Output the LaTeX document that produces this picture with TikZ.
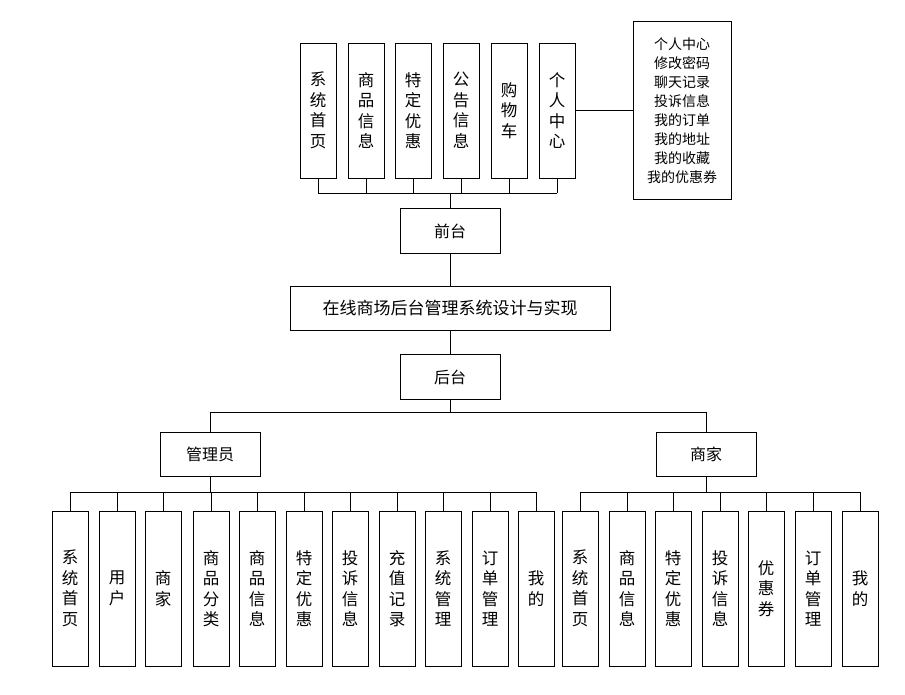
\documentclass[tikz,border=0pt]{standalone}
\usepackage{fontspec}
\setmainfont{Noto Sans CJK SC}
\usetikzlibrary{positioning}

\begin{document}
\begin{tikzpicture}[x=1pt, y=-1pt,
    vbox/.style={draw=black, line width=0.8pt, minimum width=36pt, minimum height=135pt,
                 align=center, font=\fontsize{16.5}{20.5}\selectfont, inner sep=1pt},
    hbox/.style={draw=black, line width=0.8pt, minimum width=100pt, minimum height=45pt,
                 font=\fontsize{16}{19}\selectfont},
    link/.style={line width=0.8pt}
]
    \useasboundingbox (0,0) rectangle (905,695);

    % === Front end ===
    \foreach \x/\t [count=\i] in {318/系\\统\\首\\页, 366/商\\品\\信\\息, 413/特\\定\\优\\惠,
                                   461/公\\告\\信\\息, 509/购\\物\\车, 557/个\\人\\中\\心} {
        \node[vbox] (f\i) at (\x,110.5) {\t};
        \draw[link] (f\i.south) -- (\x,193);
    }
    \draw[link] (318,193) -- (557,193);
    \node[draw=black, line width=0.8pt, minimum width=98pt, minimum height=178pt, align=center,
          font=\fontsize{14}{19}\selectfont] (ucenter) at (682,110.5)
        {个人中心\\修改密码\\聊天记录\\投诉信息\\我的订单\\我的地址\\我的收藏\\我的优惠券};
    \draw[link] (f6.east) -- (ucenter.west);

    \node[hbox] (front) at (450,231) {前台};
    \draw[link] (450,193) -- (front.north);

    \node[hbox, minimum width=320pt, minimum height=44pt, font=\fontsize{17}{20}\selectfont] (sys) at (450,308) {在线商场后台管理系统设计与实现};
    \draw[link] (front.south) -- (sys.north);

    % === Back end ===
    \node[hbox] (back) at (450,377) {后台};
    \draw[link] (sys.south) -- (back.north);
    \draw[link] (back.south) -- (450,412);
    \draw[link] (210,412) -- (706,412);

    \node[hbox, minimum height=44pt] (admin) at (210,454) {管理员};
    \node[hbox, minimum height=44pt] (shop) at (706,454) {商家};
    \draw[link] (210,412) -- (admin.north);
    \draw[link] (706,412) -- (shop.north);
    \draw[link] (admin.south) -- (210,492);
    \draw[link] (shop.south) -- (706,492);

    \foreach \x/\t [count=\i] in {70/系\\统\\首\\页, 117/用\\户, 163/商\\家, 211/商\\品\\分\\类,
                                   257/商\\品\\信\\息, 304/特\\定\\优\\惠, 350/投\\诉\\信\\息,
                                   397/充\\值\\记\\录, 443/系\\统\\管\\理, 490/订\\单\\管\\理, 536/我\\的} {
        \node[vbox, minimum height=155pt] (a\i) at (\x,588.5) {\t};
        \draw[link] (a\i.north) -- (\x,492);
    }
    \draw[link] (70,492) -- (536,492);

    \foreach \x/\t [count=\i] in {580/系\\统\\首\\页, 627/商\\品\\信\\息, 673/特\\定\\优\\惠,
                                   720/投\\诉\\信\\息, 766/优\\惠\\券, 813/订\\单\\管\\理, 860/我\\的} {
        \node[vbox, minimum height=155pt] (s\i) at (\x,588.5) {\t};
        \draw[link] (s\i.north) -- (\x,492);
    }
    \draw[link] (580,492) -- (860,492);
\end{tikzpicture}
\end{document}
